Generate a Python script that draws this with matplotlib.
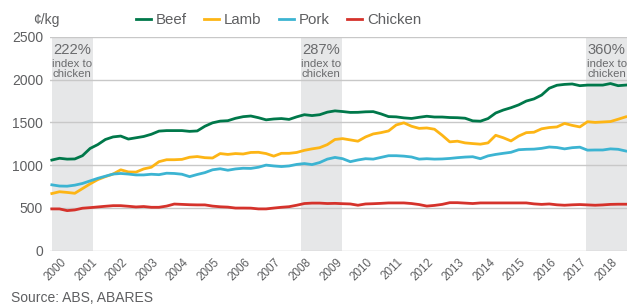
import matplotlib
matplotlib.use("Agg")
import matplotlib.pyplot as plt
import numpy as np

plt.rcParams['font.family'] = ['Liberation Sans', 'DejaVu Sans']

# Quarterly series, 2000 Q1 .. 2018 Q4 (cents per kg)
beef = [1059, 1080, 1070, 1072, 1110, 1195, 1240, 1300, 1330, 1340, 1305, 1320, 1335,
        1361, 1398, 1404, 1404, 1404, 1395, 1400, 1455, 1495, 1515, 1520, 1548,
        1567, 1575, 1555, 1530, 1540, 1545, 1535, 1565, 1590, 1580, 1590, 1620, 1635,
        1627, 1617, 1618, 1624, 1626, 1600, 1568, 1565, 1553, 1546, 1560, 1572,
        1563, 1563, 1557, 1555, 1549, 1518, 1514, 1545, 1610, 1645, 1672, 1705, 1750,
        1775, 1820, 1900, 1935, 1945, 1950, 1930, 1937, 1937, 1937, 1955, 1930, 1937]
lamb = [667, 688, 680, 670, 725, 780, 830, 865, 895, 945, 920, 918, 955,
        975, 1040, 1063, 1063, 1067, 1092, 1100, 1087, 1083, 1135, 1125, 1135,
        1130, 1148, 1150, 1135, 1105, 1138, 1138, 1148, 1173, 1190, 1204, 1240, 1300,
        1310, 1295, 1280, 1330, 1365, 1380, 1400, 1470, 1495, 1455, 1430, 1435,
        1420, 1350, 1272, 1280, 1260, 1252, 1245, 1260, 1349, 1320, 1283, 1340, 1380,
        1385, 1425, 1440, 1447, 1488, 1465, 1447, 1508, 1500, 1505, 1510, 1537, 1565]
pork = [769, 755, 753, 765, 785, 815, 845, 870, 895, 902, 895, 885, 885,
        893, 888, 905, 902, 893, 865, 890, 912, 945, 957, 940, 955,
        963, 961, 975, 1000, 990, 983, 990, 1008, 1018, 1006, 1030, 1070, 1090,
        1075, 1040, 1060, 1075, 1070, 1090, 1110, 1110, 1105, 1095, 1070, 1075,
        1070, 1072, 1078, 1087, 1094, 1098, 1075, 1108, 1125, 1138, 1150, 1180, 1185,
        1187, 1196, 1212, 1206, 1190, 1204, 1210, 1175, 1177, 1177, 1190, 1185, 1165]
chicken = [487, 487, 467, 475, 495, 502, 510, 518, 525, 525, 518, 510, 515,
           506, 506, 520, 544, 540, 536, 534, 534, 520, 512, 508, 497,
           497, 496, 487, 487, 497, 506, 513, 530, 550, 555, 555, 550, 552,
           548, 545, 530, 545, 548, 552, 557, 557, 557, 550, 538, 520,
           528, 540, 560, 560, 555, 550, 557, 557, 557, 557, 557, 557, 557,
           546, 540, 545, 535, 530, 535, 538, 534, 530, 534, 540, 542, 542]

series_names = ['Beef', 'Lamb', 'Pork', 'Chicken']
series_colors = ['#00784a', '#fdb515', '#3cb4d2', '#d5322b']

years = list(range(2000, 2019))
shade_spans = [(2000.0, 2001.33), (2008.14, 2009.47), (2017.45, 2018.8)]
shade_labels = ['222%', '287%', '360%']

x = 2000 + np.arange(len(beef)) / 4.0

fig = plt.figure(figsize=(6.32, 3.05), dpi=100)
ax = fig.add_axes([50 / 632, (305 - 250.5) / 305, 577 / 632, 213.5 / 305])

grey_txt = '#5e5f61'
for (a, b), lab in zip(shade_spans, shade_labels):
    ax.axvspan(a, b, color='#e6e7e8', zorder=0, lw=0)
    cx = (a + b) / 2
    ax.text(cx, 2301, lab, ha='center', va='baseline', fontsize=10.6, color='#6a6b6d', zorder=1)
    ax.text(cx, 2149, 'index to', ha='center', va='baseline', fontsize=8.2, color='#6a6b6d', zorder=1)
    ax.text(cx, 2032, 'chicken', ha='center', va='baseline', fontsize=8.2, color='#6a6b6d', zorder=1)

for v in range(0, 2501, 500):
    ax.axhline(v, color='#c8c8c8', lw=1.0, zorder=1)

handles = []
for name, col, data in zip(series_names, series_colors, [beef, lamb, pork, chicken]):
    h, = ax.plot(x, data, color=col, lw=2.0, label=name, zorder=3, solid_joinstyle='round')
    handles.append(h)

ax.set_xlim(1999.94, 2018.79)
ax.set_ylim(0, 2500)
for s in ax.spines.values():
    s.set_visible(False)
ax.set_yticks(range(0, 2501, 500))
ax.tick_params(axis='y', length=0, pad=5, labelsize=10, labelcolor=grey_txt)
ax.set_xticks([yy + 0.28 for yy in years])
ax.set_xticklabels([str(yy) for yy in years], rotation=45, ha='right', va='top',
                   rotation_mode='anchor', fontsize=8.4, color=grey_txt)
ax.tick_params(axis='x', length=0, pad=4)

fig.text(33 / 632, (305 - 20) / 305, '\u00a2/kg', ha='left', va='center', fontsize=10, color=grey_txt)

fig.legend(handles=handles, labels=series_names, loc='center left',
           bbox_to_anchor=(136 / 632, (305 - 20.5) / 305), ncol=4, frameon=False,
           fontsize=10.8, handlelength=1.0, handletextpad=0.33, columnspacing=1.15,
           borderpad=0, borderaxespad=0, labelcolor=grey_txt)

fig.text(11 / 632, 3 / 305, 'Source: ABS, ABARES', ha='left', va='baseline', fontsize=10, color=grey_txt)

fig.savefig('out.png', dpi=100)
